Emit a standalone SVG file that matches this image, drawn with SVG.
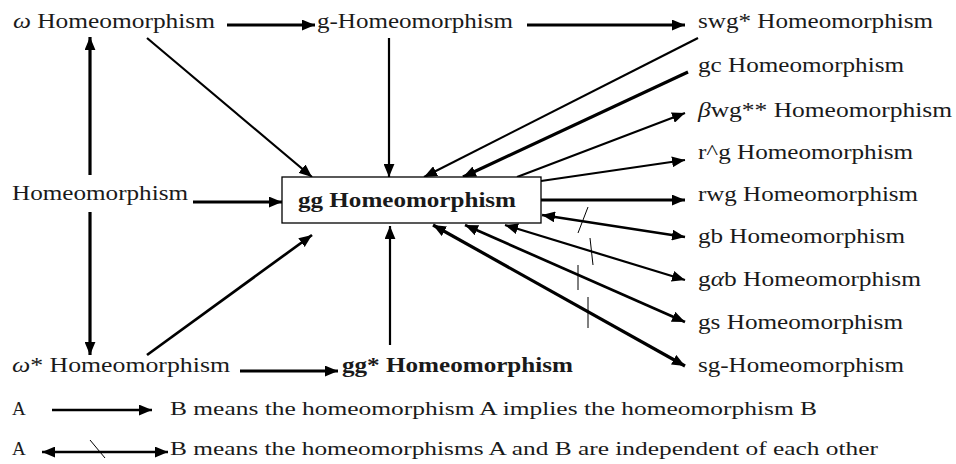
<svg xmlns="http://www.w3.org/2000/svg" width="956" height="464" viewBox="0 0 956 464">
<defs>
<style>
text{font-family:"Liberation Serif","Times New Roman",serif;fill:#1a1a1a;}
.n{font-size:20px;}
.b{font-size:21px;font-weight:bold;}
.lg{font-size:19px;}
.it{font-style:italic;}
.c{stroke:#000;fill:none;}
.w3{stroke-width:3.2;}
.w2{stroke-width:2.2;}
.w25{stroke-width:2.7;}
.s{stroke:#000;stroke-width:1;fill:none;}
</style>
<marker id="ah" viewBox="0 0 12 10" refX="12" refY="5" markerWidth="13" markerHeight="11" markerUnits="userSpaceOnUse" orient="auto-start-reverse">
<path d="M0,0 L12,5 L0,10 Z" fill="#000"/>
</marker>
</defs>
<rect width="956" height="464" fill="#fff"/>

<g id="connectors">
<line class="c w3" x1="227" y1="25" x2="315" y2="25" marker-end="url(#ah)"/>
<line class="c w3" x1="527" y1="25" x2="685" y2="25" marker-end="url(#ah)"/>
<line class="c w3" x1="90" y1="175" x2="90" y2="37" marker-end="url(#ah)"/>
<line class="c w3" x1="90" y1="212" x2="90" y2="355" marker-end="url(#ah)"/>
<line class="c w3" x1="193" y1="202" x2="282" y2="202" marker-end="url(#ah)"/>
<line class="c w2" x1="147" y1="38" x2="312" y2="177" marker-end="url(#ah)"/>
<line class="c w2" x1="389" y1="38" x2="389" y2="177" marker-end="url(#ah)"/>
<line class="c w2" x1="698" y1="38" x2="424" y2="177" marker-end="url(#ah)"/>
<line class="c w3" x1="688" y1="72" x2="463" y2="177" marker-end="url(#ah)"/>
<line class="c w2" x1="517" y1="177" x2="685" y2="113" marker-end="url(#ah)"/>
<line class="c w2" x1="541" y1="181" x2="685" y2="160" marker-end="url(#ah)"/>
<line class="c w3" x1="541" y1="200" x2="685" y2="200" marker-end="url(#ah)"/>
<line class="c w25" x1="542" y1="215" x2="685" y2="237" marker-start="url(#ah)" marker-end="url(#ah)"/>
<line class="c w2" x1="505" y1="225" x2="685" y2="280" marker-start="url(#ah)" marker-end="url(#ah)"/>
<line class="c w25" x1="465" y1="225" x2="685" y2="322" marker-start="url(#ah)" marker-end="url(#ah)"/>
<line class="c w3" x1="433" y1="225" x2="685" y2="366" marker-start="url(#ah)" marker-end="url(#ah)"/>
<line class="s" x1="588" y1="207" x2="578" y2="233"/>
<line class="s" x1="590" y1="238" x2="593" y2="265"/>
<line class="s" x1="578" y1="265" x2="578" y2="290"/>
<line class="s" x1="588" y1="297" x2="588" y2="328"/>
<line class="c w25" x1="147" y1="355" x2="312" y2="235" marker-end="url(#ah)"/>
<line class="c w2" x1="390" y1="345" x2="390" y2="226" marker-end="url(#ah)"/>
<line class="c w3" x1="240" y1="371" x2="338" y2="371" marker-end="url(#ah)"/>
<line class="c w25" x1="52" y1="410" x2="152" y2="410" marker-end="url(#ah)"/>
<line class="c w25" x1="42" y1="452" x2="168" y2="452" marker-start="url(#ah)" marker-end="url(#ah)"/>
<line class="s" x1="90" y1="440" x2="105" y2="458"/>
</g>

<g id="n-omega"><text class="n" x="13" y="28" textLength="202" lengthAdjust="spacingAndGlyphs"><tspan class="it">ω</tspan> Homeomorphism</text></g>
<g id="n-g"><text class="n" x="317" y="28" textLength="196" lengthAdjust="spacingAndGlyphs">g-Homeomorphism</text></g>
<g id="n-swg"><text class="n" x="698" y="28" textLength="235" lengthAdjust="spacingAndGlyphs">swg* Homeomorphism</text></g>
<g id="n-gc"><text class="n" x="698" y="72" textLength="206" lengthAdjust="spacingAndGlyphs">gc Homeomorphism</text></g>
<g id="n-bwg"><text class="n" x="698" y="117" textLength="254" lengthAdjust="spacingAndGlyphs"><tspan class="it">β</tspan>wg** Homeomorphism</text></g>
<g id="n-rg"><text class="n" x="698" y="159" textLength="215" lengthAdjust="spacingAndGlyphs">r^g Homeomorphism</text></g>
<g id="n-rwg"><text class="n" x="698" y="201" textLength="220" lengthAdjust="spacingAndGlyphs">rwg Homeomorphism</text></g>
<g id="n-gb"><text class="n" x="698" y="243" textLength="207" lengthAdjust="spacingAndGlyphs">gb Homeomorphism</text></g>
<g id="n-gab"><text class="n" x="698" y="286" textLength="223" lengthAdjust="spacingAndGlyphs">g<tspan class="it">α</tspan>b Homeomorphism</text></g>
<g id="n-gs"><text class="n" x="698" y="329" textLength="205" lengthAdjust="spacingAndGlyphs">gs Homeomorphism</text></g>
<g id="n-sg"><text class="n" x="698" y="372" textLength="206" lengthAdjust="spacingAndGlyphs">sg-Homeomorphism</text></g>
<g id="n-homeo"><text class="n" x="12" y="200" textLength="176" lengthAdjust="spacingAndGlyphs">Homeomorphism</text></g>
<g id="n-omegastar"><text class="n" x="12" y="372" textLength="218" lengthAdjust="spacingAndGlyphs"><tspan class="it">ω</tspan>* Homeomorphism</text></g>
<g id="n-ggstar"><text class="b" x="342" y="372" textLength="231" lengthAdjust="spacingAndGlyphs">gg* Homeomorphism</text></g>
<g id="n-gg">
<rect x="282" y="177" width="259" height="46" fill="#fff" stroke="#000" stroke-width="1.3"/>
<text class="b" x="298" y="207" textLength="218" lengthAdjust="spacingAndGlyphs">gg Homeomorphism</text>
</g>

<g id="legend">
<text class="lg" x="12" y="415">A</text>
<text class="lg" x="170" y="415" textLength="647" lengthAdjust="spacingAndGlyphs">B means the homeomorphism A implies the homeomorphism B</text>
<text class="lg" x="12" y="455">A</text>
<text class="lg" x="170" y="455" textLength="708" lengthAdjust="spacingAndGlyphs">B means the homeomorphisms A and B are independent of each other</text>
</g>
</svg>
